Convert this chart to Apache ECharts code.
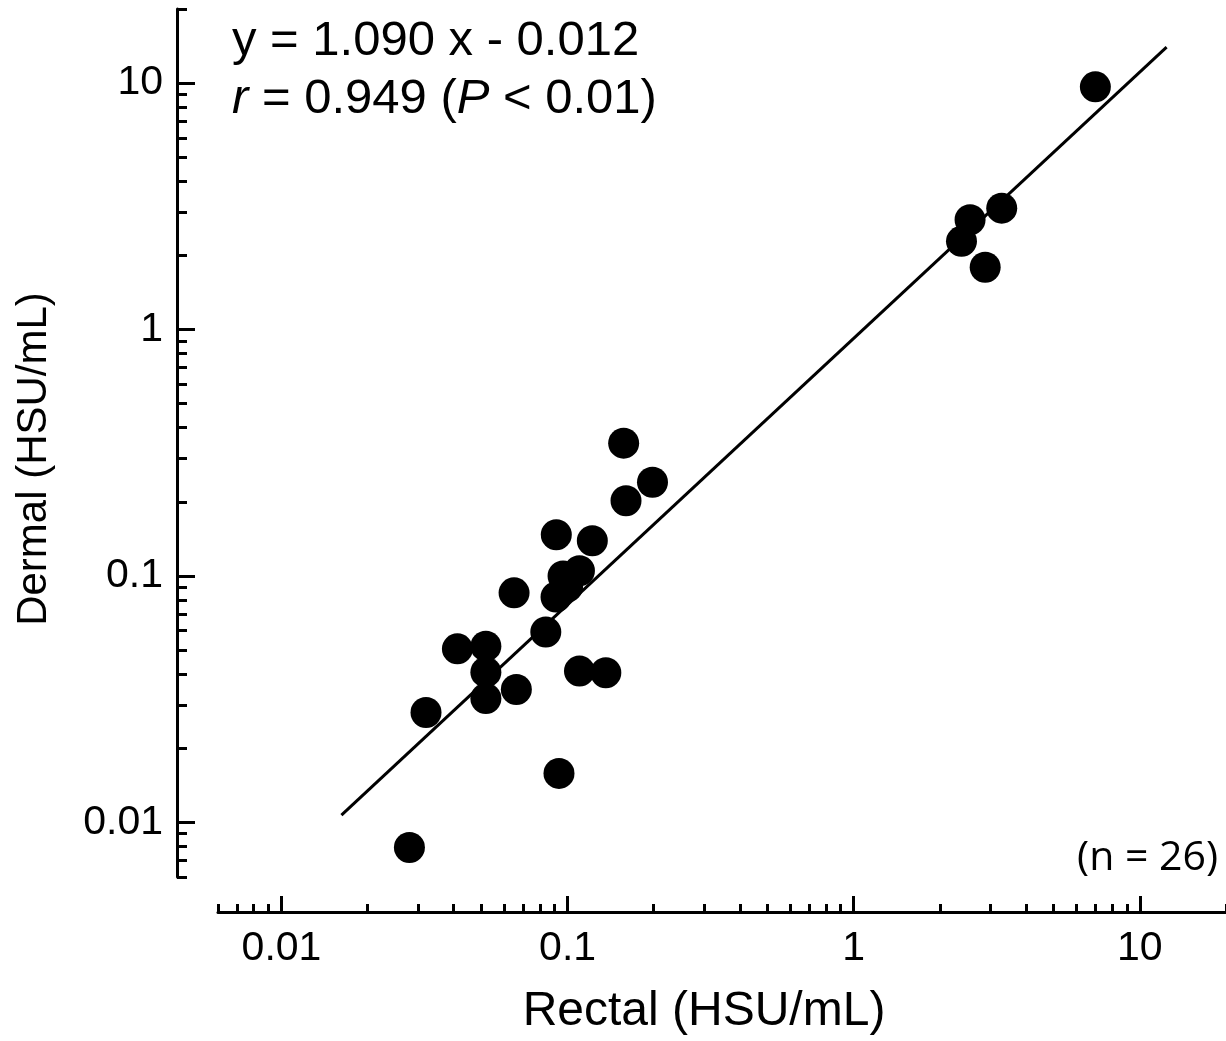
<!DOCTYPE html>
<html>
<head>
<meta charset="utf-8">
<title>Dermal vs Rectal</title>
<script src="https://cdn.jsdelivr.net/npm/echarts@6/dist/echarts.min.js"></script>
<style>
  html, body { margin: 0; padding: 0; background: #fff; }
  #main { width: 1226px; height: 1041px; }
</style>
</head>
<body>
<div id="main"></div>
<script>
// values (HSU/mL)
const rectal = [6.99, 3.29, 2.55, 2.38, 2.88, 0.157, 0.198, 0.160, 0.0913, 0.122,
  0.110, 0.0964, 0.0911, 0.100, 0.065, 0.0839, 0.0412, 0.0518, 0.0518, 0.0518,
  0.0662, 0.110, 0.136, 0.032, 0.0933, 0.028];
const dermal = [9.66, 3.11, 2.79, 2.28, 1.79, 0.346, 0.240, 0.202, 0.147, 0.139,
  0.105, 0.100, 0.0822, 0.0903, 0.0854, 0.0592, 0.0506, 0.0519, 0.0407, 0.0318,
  0.0346, 0.0411, 0.0405, 0.0279, 0.0158, 0.0079];

// regression line end points
const fitX = [0.0162, 12.4];
const fitY = [0.0107, 14.0];

const majorTicks = [0.01, 0.1, 1, 10];
const minorTicks = [0.006, 0.007, 0.008, 0.009,
  0.02, 0.03, 0.04, 0.05, 0.06, 0.07, 0.08, 0.09,
  0.2, 0.3, 0.4, 0.5, 0.6, 0.7, 0.8, 0.9,
  2, 3, 4, 5, 6, 7, 8, 9, 20];

const axisMin = 0.006;
const axisMax = 20;
const font = 'Liberation Sans, Arial, sans-serif';

const chartDom = document.getElementById('main');
const myChart = echarts.init(chartDom, null, { renderer: 'canvas' });

const points = rectal.map((x, i) => [x, dermal[i]]);
const fitLine = fitX.map((x, i) => [x, fitY[i]]);

const lineStyle = { color: '#000', width: 3 };

function majorAxis(extra) {
  return Object.assign({
    type: 'log',
    logBase: 10,
    min: axisMin,
    max: axisMax,
    splitLine: { show: false },
    axisLine: { show: true, lineStyle: lineStyle },
    axisTick: { show: true, inside: true, customValues: majorTicks, lineStyle: lineStyle },
    axisLabel: { customValues: majorTicks, color: '#000', fontSize: 41, fontFamily: font }
  }, extra);
}

function minorAxis(extra) {
  return Object.assign({
    type: 'log',
    logBase: 10,
    min: axisMin,
    max: axisMax,
    splitLine: { show: false },
    axisLine: { show: false },
    axisTick: { show: true, inside: true, customValues: minorTicks, lineStyle: lineStyle },
    axisLabel: { show: false }
  }, extra);
}

const xMajor = majorAxis({ position: 'bottom', offset: 35, name: 'Rectal (HSU/mL)',
  nameLocation: 'middle', nameGap: 76 });
xMajor.axisTick.length = 16;
xMajor.axisLabel.margin = 16;
xMajor.nameTextStyle = { color: '#000', fontSize: 48, fontFamily: font, padding: [0, 36, 0, 0] };

const xMinor = minorAxis({ position: 'bottom', offset: 35 });
xMinor.axisTick.length = 8;

const yMajor = majorAxis({ position: 'left', offset: 41, name: 'Dermal (HSU/mL)',
  nameLocation: 'middle', nameGap: 122 });
yMajor.axisTick.length = 18;
yMajor.axisLabel.margin = 14;
yMajor.nameTextStyle = { color: '#000', fontSize: 42, fontFamily: font, padding: [0, 32, 0, 0] };

const yMinor = minorAxis({ position: 'left', offset: 41 });
yMinor.axisTick.length = 10;

const option = {
  backgroundColor: '#fff',
  animation: false,
  grid: { left: 218, top: 9, width: 1010, height: 870, containLabel: false },
  xAxis: [xMajor, xMinor],
  yAxis: [yMajor, yMinor],
  graphic: [
    {
      type: 'text', left: 232, top: 17,
      style: { text: 'y = 1.090 x - 0.012', fill: '#000', fontSize: 49, fontFamily: font }
    },
    {
      type: 'text', left: 232, top: 75,
      style: {
        text: '{i|r} = 0.949 ({i|P} < 0.01)',
        fill: '#000', fontSize: 49, fontFamily: font,
        rich: { i: { fontStyle: 'italic', fontSize: 49, fontFamily: font, fill: '#000' } }
      }
    },
    {
      type: 'text', right: 8, top: 838,
      style: { text: '(n = 26)', fill: '#000', fontSize: 41, fontFamily: 'Open Sans, sans-serif' }
    }
  ],
  series: [
    {
      name: 'fit',
      type: 'line',
      data: fitLine,
      showSymbol: false,
      symbol: 'none',
      lineStyle: { color: '#000', width: 3 },
      z: 2
    },
    {
      name: 'samples',
      type: 'scatter',
      data: points,
      symbol: 'circle',
      symbolSize: 31,
      itemStyle: { color: '#000', opacity: 1 },
      z: 3
    }
  ]
};

option && myChart.setOption(option);
</script>
</body>
</html>
